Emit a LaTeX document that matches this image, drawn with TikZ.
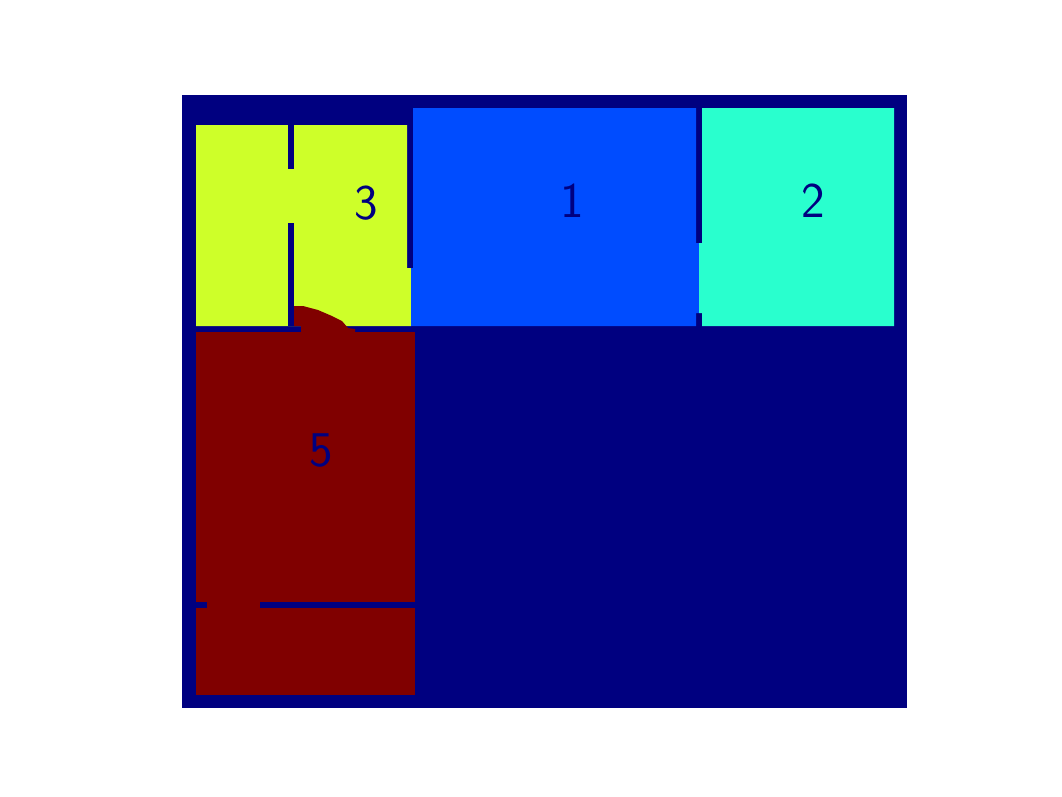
\documentclass[tikz,border=0pt]{standalone}
\usepackage{tikz}
\usetikzlibrary{calc}
\definecolor{jetnavy}{RGB}{0,0,128}
\definecolor{jetblue}{RGB}{0,76,255}
\definecolor{jetcyan}{RGB}{41,255,206}
\definecolor{jetyellow}{RGB}{206,255,41}
\definecolor{jetred}{RGB}{128,0,0}

\begin{document}
\begin{tikzpicture}[x=1pt,y=-1pt,
  roomlabel/.style={text=jetnavy,font=\sffamily\fontsize{50}{50}\selectfont,inner sep=0pt}]
  \useasboundingbox (0,0) rectangle (1062,796);
  \fill[jetnavy] (182,95) rectangle (907,708);
  \fill[jetyellow] (196,125) -- (407,125) -- (407,268) -- (411,268) -- (411,326) -- (196,326) -- cycle;
  \fill[jetnavy] (288,125) rectangle (294,169);
  \fill[jetnavy] (288,223) rectangle (294,326);
  \fill[jetblue] (413,108) -- (696,108) -- (696,243) -- (699,243) -- (699,313) -- (696,313)
    -- (696,326) -- (411,326) -- (411,268) -- (413,268) -- cycle;
  \fill[jetcyan] (702,108) -- (894,108) -- (894,326) -- (702,326) -- (702,313) -- (699,313)
    -- (699,243) -- (702,243) -- cycle;
  \fill[jetred] (294,326) -- (294,306) -- (303,306) -- (318,310) -- (332,316) -- (342,321)
    -- (348,328) -- (355,329) -- (355,332) -- (301,332) -- (301,326) -- cycle;
  \fill[jetred] (196,332) rectangle (415,695);
  \fill[jetnavy] (196,602) rectangle (207,608);
  \fill[jetnavy] (260,602) rectangle (415,608);
  \node[roomlabel] (r1) at (572,201) {1};
  \node[roomlabel] (r2) at (813,201) {2};
  \node[roomlabel] (r3) at (366,203) {3};
  \node[roomlabel] (r5) at (321,450) {5};
\end{tikzpicture}
\end{document}
